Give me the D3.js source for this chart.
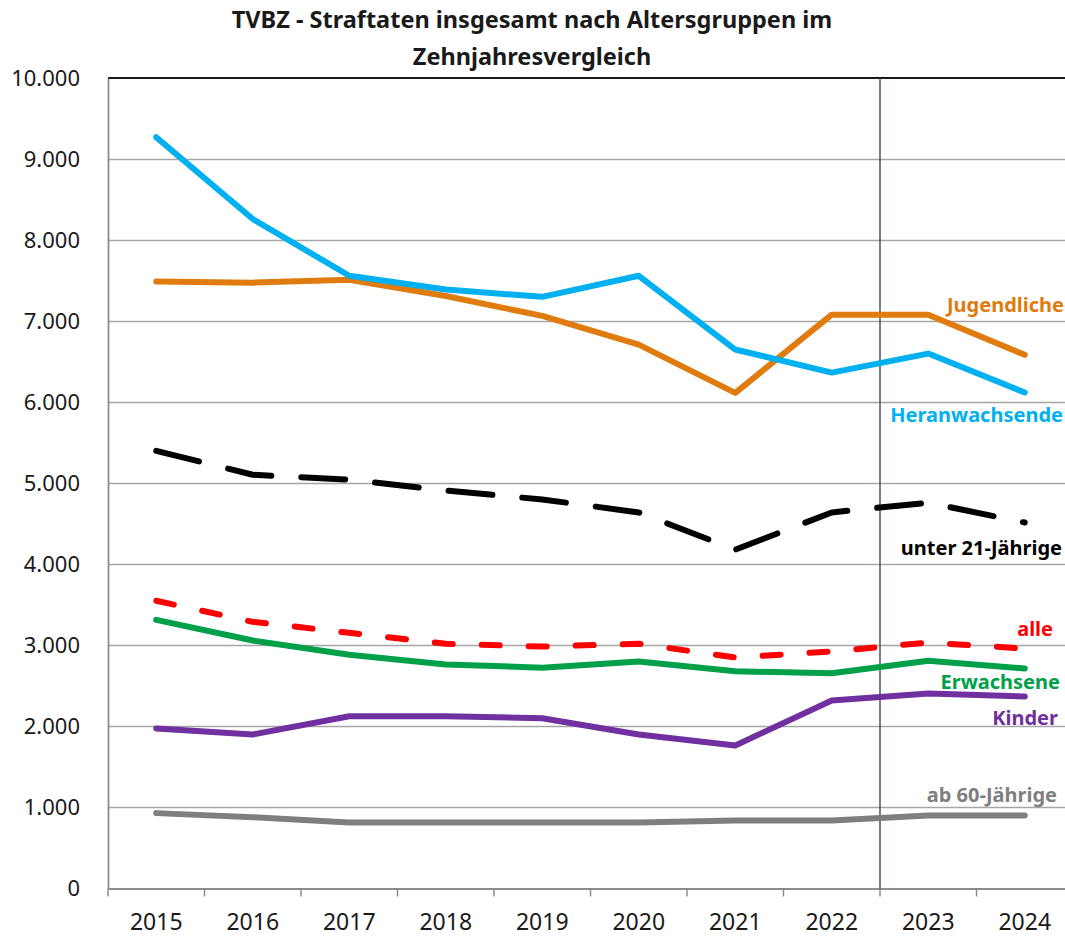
<!DOCTYPE html>
<html>
<head>
<meta charset="utf-8">
<script src="https://cdn.jsdelivr.net/npm/d3@7/dist/d3.min.js"></script>
<style>
  html, body { margin: 0; padding: 0; background: #fff; }
  svg { display: block; }
</style>
</head>
<body>
<div id="chart"></div>
<script>
// Jahre der x-Achse
const years = ["2015", "2016", "2017", "2018", "2019", "2020", "2021", "2022", "2023", "2024"];

// Tatverdächtigenbelastungszahlen je Altersgruppe
const heranwachsende = [9270, 8260, 7560, 7390, 7300, 7560, 6650, 6365, 6600, 6120];
const jugendliche    = [7490, 7475, 7510, 7310, 7065, 6710, 6115, 7080, 7080, 6585];
const unter21        = [5400, 5105, 5045, 4910, 4800, 4640, 4180, 4640, 4760, 4515];
const alle           = [3550, 3290, 3155, 3020, 2985, 3020, 2850, 2925, 3035, 2960];
const erwachsene     = [3315, 3060, 2885, 2765, 2725, 2800, 2680, 2655, 2810, 2715];
const kinder         = [1975, 1900, 2125, 2125, 2100, 1900, 1765, 2320, 2405, 2370];
const ab60           = [930, 880, 815, 815, 815, 815, 840, 840, 900, 900];

// y-Achsen-Ticks
const yTicks = [0, 1000, 2000, 3000, 4000, 5000, 6000, 7000, 8000, 9000, 10000];

const series = [
  { name: "Heranwachsende",   values: heranwachsende, color: "#00b0f0", dash: null },
  { name: "Jugendliche",      values: jugendliche,    color: "#e07b10", dash: null },
  { name: "unter 21-Jährige", values: unter21,        color: "#000000", dash: "44,30" },
  { name: "alle",             values: alle,           color: "#ff0000", dash: "18,29" },
  { name: "Erwachsene",       values: erwachsene,     color: "#00a04a", dash: null },
  { name: "Kinder",           values: kinder,         color: "#7030a0", dash: null },
  { name: "ab 60-Jährige",    values: ab60,           color: "#7f7f7f", dash: null }
];

// Beschriftungen am rechten Rand (Lage in Pixeln)
const seriesLabels = [
  { name: "Jugendliche",      color: "#e07b10", x: 1064, y: 312 },
  { name: "Heranwachsende",   color: "#00b0f0", x: 1063, y: 422 },
  { name: "unter 21-Jährige", color: "#000000", x: 1062, y: 555 },
  { name: "alle",             color: "#ff0000", x: 1053, y: 636 },
  { name: "Erwachsene",       color: "#00a04a", x: 1060, y: 689 },
  { name: "Kinder",           color: "#7030a0", x: 1058, y: 725 },
  { name: "ab 60-Jährige",    color: "#7f7f7f", x: 1057, y: 802 }
];

const FONT = "'Noto Sans', 'DejaVu Sans', sans-serif";
const W = 1065, H = 939;
const margin = { left: 108, top: 78, right: -8, bottom: 50 };
const innerW = W - margin.left - margin.right;
const innerH = H - margin.top - margin.bottom - 0.5;

const svg = d3.select("#chart").append("svg")
  .attr("width", W).attr("height", H)
  .style("font-family", FONT);

const g = svg.append("g").attr("transform", `translate(${margin.left},${margin.top})`);

const x = d3.scaleBand().domain(years).range([0, innerW]).padding(0);
const y = d3.scaleLinear().domain([0, 10000]).range([innerH, 0]);

const fmt = d3.formatLocale({ decimal: ",", thousands: ".", grouping: [3], currency: ["", "€"] }).format(",d");

// Gitterlinien
g.append("g").selectAll("line").data(yTicks.filter(d => d > 0 && d < 10000)).join("line")
  .attr("x1", 0).attr("x2", innerW)
  .attr("y1", d => Math.round(y(d)) + 0.5).attr("y2", d => Math.round(y(d)) + 0.5)
  .attr("stroke", "#a6a6a6").attr("stroke-width", 1.5);

// obere Begrenzung
g.append("line").attr("x1", 0).attr("x2", innerW)
  .attr("y1", y(10000)).attr("y2", y(10000))
  .attr("stroke", "#1a1a1a").attr("stroke-width", 1.8);

// y-Achse
const yAxis = g.append("g").call(d3.axisLeft(y).tickValues(yTicks).tickFormat(fmt).tickSize(0).tickPadding(28));
yAxis.select(".domain").attr("stroke", "#8c8c8c").attr("stroke-width", 1.8);
yAxis.selectAll("text").style("font-family", FONT).style("font-size", "22px").attr("fill", "#1a1a1a");

// x-Achse
const xAxis = g.append("g").attr("transform", `translate(0,${innerH})`)
  .call(d3.axisBottom(x).tickSize(0).tickPadding(25));
xAxis.select(".domain").attr("stroke", "#8c8c8c").attr("stroke-width", 1.8);
xAxis.selectAll("text").style("font-family", FONT).style("font-size", "23px").attr("fill", "#1a1a1a");
// Teilstriche an den Kategoriegrenzen
xAxis.append("g").selectAll("line").data(years).join("line")
  .attr("x1", d => x(d)).attr("x2", d => x(d))
  .attr("y1", 0).attr("y2", 8)
  .attr("stroke", "#8c8c8c").attr("stroke-width", 1.5);

// senkrechte Trennlinie zwischen 2022 und 2023
g.append("line")
  .attr("x1", x("2023")).attr("x2", x("2023"))
  .attr("y1", 0).attr("y2", innerH)
  .attr("stroke", "#44546a").attr("stroke-width", 1.5);

// Linien
const line = d3.line()
  .x((d, i) => x(years[i]) + x.bandwidth() / 2)
  .y(d => y(d));

g.append("g").selectAll("path").data(series.slice().reverse()).join("path")
  .attr("d", d => line(d.values))
  .attr("fill", "none")
  .attr("stroke", d => d.color)
  .attr("stroke-width", 6)
  .attr("stroke-linecap", "round")
  .attr("stroke-linejoin", "round")
  .attr("stroke-dasharray", d => d.dash);

// Beschriftungen der Reihen
svg.append("g").selectAll("text").data(seriesLabels).join("text")
  .attr("x", d => d.x).attr("y", d => d.y)
  .attr("text-anchor", "end")
  .style("font-size", "20px").style("font-weight", "bold")
  .attr("fill", d => d.color)
  .text(d => d.name);

// Titel
const title = svg.append("text")
  .attr("text-anchor", "middle")
  .style("font-size", "23.5px").style("font-weight", "bold").attr("fill", "#1a1a1a");
title.append("tspan").attr("x", 532).attr("y", 28).text("TVBZ - Straftaten insgesamt nach Altersgruppen im");
title.append("tspan").attr("x", 532).attr("y", 65).text("Zehnjahresvergleich");
</script>
</body>
</html>
